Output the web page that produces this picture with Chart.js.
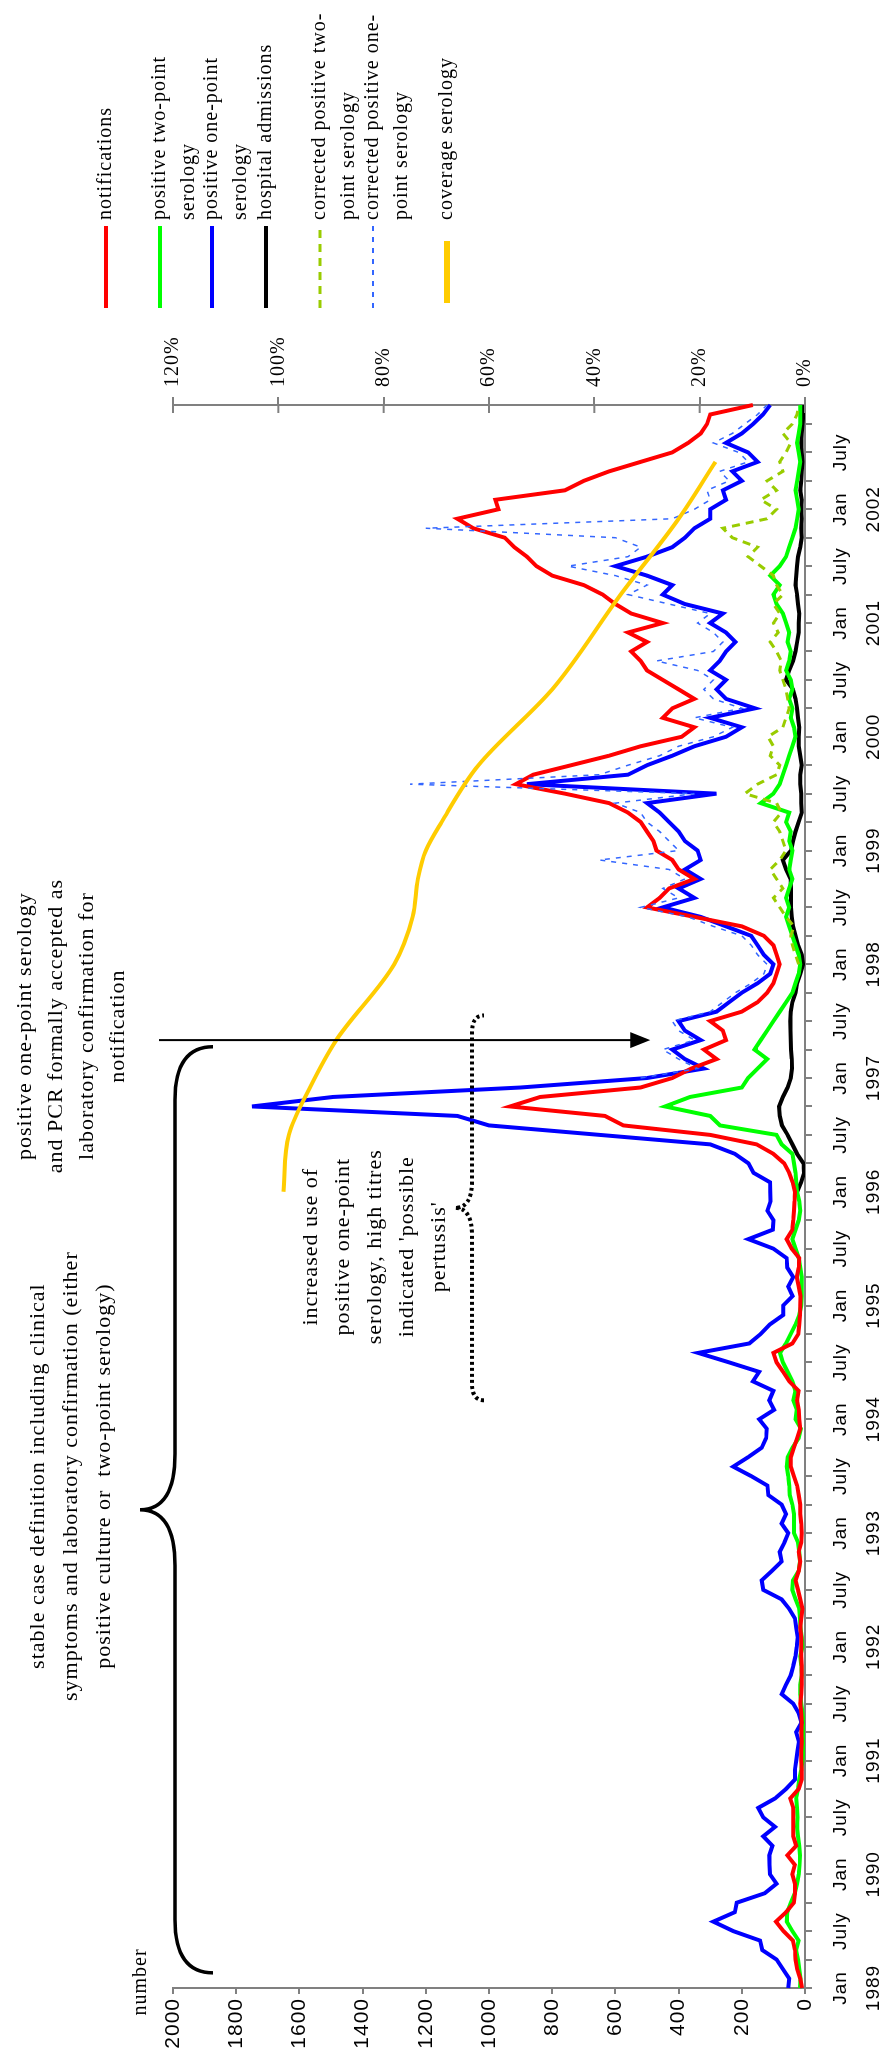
<!DOCTYPE html>
<html>
<head>
<meta charset="utf-8">
<title>Pertussis surveillance 1989-2002</title>
<script src="https://cdn.jsdelivr.net/npm/chart.js@4.4.1/dist/chart.umd.min.js"></script>
<style>
  html, body { margin: 0; padding: 0; background: #fff; width: 888px; height: 2060px; overflow: hidden; }
  /* the chart is laid out landscape and turned a quarter turn anticlockwise */
  #frame { position: absolute; left: 0; top: 0; width: 2060px; height: 888px;
           transform-origin: 0 0; transform: translateY(2060px) rotate(-90deg); }
  canvas { display: block; }
</style>
</head>
<body>
<div id="frame"><canvas id="c" width="2060" height="888"></canvas></div>
<script>
// ---- time axis: monthly, Jan 1989 .. Dec 2002 ----
const firstYear = 1989;
const lastYear = 2002;
const monthNames = ['Jan','Feb','Mar','Apr','May','Jun','Jul','Aug','Sep','Oct','Nov','Dec'];
const months = [];
for (let y = firstYear; y <= lastYear; y++) for (let m = 0; m < 12; m++) months.push(monthNames[m] + ' ' + y);

// ---- series (cases per month), one row per year ----
const notifications = [
  9,15,25,30,32,38,68,92,60,35,32,32,
  40,32,56,28,37,37,37,37,47,20,10,10,
  12,12,10,12,10,12,15,12,10,10,10,12,
  12,12,15,12,8,15,22,30,20,15,20,12,
  10,12,15,15,20,25,35,45,45,35,25,15,
  18,20,25,20,50,69,90,100,40,21,18,16,
  15,14,20,26,20,18,42,58,40,37,35,33,
  32,39,50,66,100,153,300,575,633,933,838,520,
  420,360,280,320,250,260,300,200,150,120,100,90,
  80,90,100,130,200,350,500,460,430,350,400,420,
  470,480,500,520,560,620,760,915,860,740,620,520,
  390,350,450,420,350,400,450,500,520,550,500,560,
  450,550,600,640,700,800,850,880,920,950,1050,1100,
  970,980,760,700,620,520,420,370,330,310,300,165
];
const twoPoint = [
  16,14,18,22,28,20,40,58,56,45,32,25,
  20,17,16,18,22,25,24,25,28,22,18,12,
  8,5,3,2,4,8,12,15,15,10,12,15,
  8,10,14,16,18,30,40,38,20,16,18,22,
  35,35,35,40,48,50,53,58,55,40,20,13,
  30,26,37,30,40,55,70,79,60,45,30,18,
  12,10,10,10,15,20,30,40,30,20,15,18,
  25,28,30,35,40,74,90,269,300,443,364,200,
  180,150,120,160,140,120,100,80,60,40,30,20,
  15,20,30,40,50,60,50,60,50,40,50,45,
  40,50,45,60,50,140,100,80,70,60,50,40,
  30,35,45,40,50,40,45,60,50,45,55,50,
  60,70,90,100,80,110,80,60,50,40,30,25,
  20,25,30,25,20,15,20,25,20,15,15,15
];
const onePoint = [
  53,50,70,90,135,142,227,290,222,216,127,90,
  111,112,113,103,132,95,132,148,95,60,32,32,
  28,24,19,28,11,20,37,74,60,45,37,30,
  26,23,28,32,50,74,132,137,105,74,80,65,
  53,74,60,74,116,119,170,227,180,137,123,121,
  145,98,113,100,165,145,240,338,176,140,111,69,
  69,39,53,37,56,58,100,179,102,100,119,109,
  110,111,163,179,222,300,650,1000,1100,1750,1494,900,
  500,320,380,420,330,380,400,280,240,200,150,110,
  100,130,150,170,250,330,450,350,400,330,380,330,
  340,380,400,430,460,500,280,880,560,500,420,350,
  250,200,300,158,250,280,250,300,270,250,220,250,
  300,260,380,450,420,500,600,500,420,380,350,300,
  300,250,260,200,230,150,180,250,200,164,133,110
];
const admissions = [
  ...Array(84).fill(null),
  25,12,3,5,25,40,55,73,80,82,70,55,
  45,41,42,44,45,46,47,45,40,30,25,15,
  6,10,22,30,38,42,44,44,44,46,60,70,
  44,38,30,20,10,12,12,15,15,10,15,20,
  20,18,22,25,30,38,60,50,38,30,25,20,
  20,18,22,25,30,28,25,22,15,10,12,10,
  12,10,15,12,10,8,10,12,10,8,5,5
];
const corrTwoPoint = [
  ...Array(108).fill(null),
  20,30,40,45,35,60,80,100,70,90,110,80,
  60,70,80,100,75,90,190,150,90,80,110,100,
  117,70,60,50,55,60,70,80,75,90,110,85,
  100,80,100,70,90,100,140,180,150,230,260,120,
  90,140,90,120,70,80,60,45,70,40,25,20
];
const corrOnePoint = [
  ...Array(96).fill(null),
  520,340,400,450,350,400,420,300,260,220,170,130,
  120,150,170,200,290,370,520,400,450,380,430,650,
  400,430,460,500,520,600,350,1250,650,560,460,400,
  290,230,350,200,290,320,290,340,470,290,260,290,
  340,300,430,560,500,600,750,560,520,600,1200,420,
  350,300,310,240,270,180,210,290,230,190,150,120
];
// serology coverage (% of tests), sparse points joined by a smooth curve
const coverage = [
  ...Array(84).fill(null),
  99,null,null,null,null,null,98,null,null,null,null,94,
  null,null,null,null,89,null,null,null,null,null,null,null,
  78,null,null,null,null,74.5,null,null,null,73.5,null,null,
  72,null,null,69,null,null,null,null,null,62,null,null,
  null,null,null,null,null,48,null,null,null,null,null,null,
  null,null,null,35,null,null,null,null,null,null,null,24,
  null,null,null,null,null,17,null,null,null,null,null,null
];

// ---- axis ticks ----
const numberTicks = { min: 0, max: 2000, step: 200 };
const percentTicks = { min: 0, max: 120, step: 20 };

// ---- legend and notes ----
const legendItems = [
  { lines: ['notifications'], color: '#FF0000', width: 4, dash: [] },
  { lines: ['positive two-point', 'serology'], color: '#00FF00', width: 4, dash: [] },
  { lines: ['positive one-point', 'serology'], color: '#0000FF', width: 4, dash: [] },
  { lines: ['hospital admissions'], color: '#000000', width: 4, dash: [] },
  { lines: ['corrected positive two-', 'point serology'], color: '#99CC00', width: 3, dash: [8, 6] },
  { lines: ['corrected positive one-', 'point serology'], color: '#3366FF', width: 2, dash: [5, 6] },
  { lines: ['coverage serology'], color: '#FFCC00', width: 6, dash: [] }
];
const noteCaseDef = ['stable case definition including clinical',
                     'symptoms and laboratory confirmation (either',
                     'positive culture or  two-point serology)'];
const noteAccepted = ['positive one-point serology',
                      'and PCR formally accepted as',
                      'laboratory confirmation for',
                      'notification'];
const noteIncrease = ['increased use of', 'positive one-point',
                      'serology, high titres', "indicated 'possible",
                      "pertussis'"];
const acceptedMonth = 100;   // May 1997

const SERIF = '"Liberation Serif", "Times New Roman", serif';
const SANS = '"Liberation Sans", Arial, sans-serif';

function drawBrace(ctx, x0, x1, yEnd, ySpine, yTip) {
  // horizontal curly brace, ends bending away from the tip
  const xm = (x0 + x1) / 2;
  const r = Math.abs(yEnd - ySpine);
  const t = Math.abs(ySpine - yTip);
  ctx.beginPath();
  ctx.moveTo(x0, yEnd);
  ctx.quadraticCurveTo(x0, ySpine, x0 + r * 1.4, ySpine);
  ctx.lineTo(xm - t * 1.6, ySpine);
  ctx.quadraticCurveTo(xm, ySpine, xm, yTip);
  ctx.quadraticCurveTo(xm, ySpine, xm + t * 1.6, ySpine);
  ctx.lineTo(x1 - r * 1.4, ySpine);
  ctx.quadraticCurveTo(x1, ySpine, x1, yEnd);
  ctx.stroke();
}

function centredLines(ctx, lines, cx, y0, step) {
  ctx.textAlign = 'center';
  ctx.textBaseline = 'middle';
  lines.forEach((s, i) => ctx.fillText(s, cx, y0 + i * step));
}

const decorations = {
  id: 'decorations',
  beforeDraw(chart) {
    chart.ctx.letterSpacing = '1px';
  },
  afterDraw(chart) {
    const ctx = chart.ctx;
    const xs = chart.scales.x, ys = chart.scales.y, yp = chart.scales.y2;
    const area = chart.chartArea;
    ctx.save();
    ctx.fillStyle = '#000';
    ctx.letterSpacing = '1px';

    // inner half of the cross ticks on the percentage axis
    ctx.strokeStyle = '#808080';
    ctx.lineWidth = 2;
    for (let v = percentTicks.min; v <= percentTicks.max; v += percentTicks.step) {
      const py = yp.getPixelForValue(v);
      ctx.beginPath(); ctx.moveTo(area.right - 8, py); ctx.lineTo(area.right, py); ctx.stroke();
    }

    // axis title
    ctx.font = '20px ' + SERIF;
    ctx.textAlign = 'center';
    ctx.textBaseline = 'alphabetic';
    ctx.fillText('number', area.left + 6, area.top - 27);

    // change of case definition: arrow
    const ax = xs.getPixelForValue(acceptedMonth);
    const tipY = ys.getPixelForValue(490);
    ctx.strokeStyle = '#000';
    ctx.lineWidth = 2;
    ctx.beginPath(); ctx.moveTo(ax, area.top - 14); ctx.lineTo(ax, tipY - 18); ctx.stroke();
    ctx.beginPath(); ctx.moveTo(ax, tipY); ctx.lineTo(ax - 8, tipY - 20); ctx.lineTo(ax + 8, tipY - 20); ctx.closePath(); ctx.fill();
    ctx.font = '22px ' + SERIF;
    centredLines(ctx, noteAccepted, ax + 14, 25, 31);

    // stable period brace
    ctx.lineWidth = 3.5;
    drawBrace(ctx, xs.getPixelForValue(1.6), xs.getPixelForValue(99.3), 213, 175, 140);
    centredLines(ctx, noteCaseDef, xs.getPixelForValue(54), 38, 33);

    // 'possible pertussis' period: dotted brace
    ctx.save();
    ctx.lineWidth = 4;
    ctx.setLineDash([3, 3]);
    drawBrace(ctx, xs.getPixelForValue(62), xs.getPixelForValue(102.6), 484, 472, 455);
    ctx.restore();
    centredLines(ctx, noteIncrease, xs.getPixelForValue(78.2), 311, 32);

    // legend
    ctx.font = '20px ' + SERIF;
    const rows = [106, 160, 212, 266, 320, 373, 447];
    legendItems.forEach((it, i) => {
      const y = rows[i];
      ctx.save();
      ctx.strokeStyle = it.color;
      ctx.lineWidth = it.width;
      ctx.setLineDash(it.dash);
      ctx.beginPath();
      if (it.width > 5) { ctx.moveTo(1757, y); ctx.lineTo(1819, y); }
      else { ctx.moveTo(1752, y); ctx.lineTo(1834, y); }
      ctx.stroke();
      ctx.restore();
      ctx.textAlign = 'left';
      ctx.textBaseline = 'middle';
      it.lines.forEach((s, k) => ctx.fillText(s, 1840, y + k * 29));
    });
    ctx.restore();
  }
};

const line = (label, data, color, width, extra) => Object.assign({
  label, data, borderColor: color, backgroundColor: color, borderWidth: width,
  pointRadius: 0, tension: 0, fill: false, spanGaps: false, yAxisID: 'y'
}, extra || {});

new Chart(document.getElementById('c'), {
  type: 'line',
  data: {
    labels: months,
    datasets: [
      line('coverage serology', coverage, '#FFCC00', 4, { yAxisID: 'y2', spanGaps: true, cubicInterpolationMode: 'monotone', order: 0 }),
      line('corrected positive one-point serology', corrOnePoint, '#3366FF', 1.5, { borderDash: [5, 6], order: 1 }),
      line('corrected positive two-point serology', corrTwoPoint, '#99CC00', 3, { borderDash: [8, 6], order: 2 }),
      line('notifications', notifications, '#FF0000', 4, { order: 3 }),
      line('positive one-point serology', onePoint, '#0000FF', 4, { order: 4 }),
      line('positive two-point serology', twoPoint, '#00FF00', 4, { order: 5 }),
      line('hospital admissions', admissions, '#000000', 4, { order: 6 })
    ]
  },
  options: {
    responsive: false,
    animation: false,
    devicePixelRatio: 1,
    layout: { padding: { top: 173, left: 0, right: 0, bottom: 0 } },
    plugins: { legend: { display: false }, tooltip: { enabled: false } },
    scales: {
      x: {
        type: 'category',
        offset: false,
        border: { color: '#808080', width: 2 },
        grid: {
          drawOnChartArea: false, tickLength: 7, lineWidth: 2,
          color: c => (c.index % 3 === 0 ? '#808080' : 'rgba(0,0,0,0)')
        },
        ticks: {
          autoSkip: false, maxRotation: 0, minRotation: 0, padding: 12, color: '#000',
          font: { family: SANS, size: 19, lineHeight: 1.75 },
          callback: (v, i) => (i % 12 === 0 ? ['Jan', String(firstYear + i / 12)] : (i % 12 === 6 ? 'July' : ''))
        },
        afterFit: s => { s.height = 83; }
      },
      y: {
        min: numberTicks.min, max: numberTicks.max,
        border: { color: '#808080', width: 2 },
        grid: { drawOnChartArea: false, tickLength: 6, color: '#808080', lineWidth: 2 },
        ticks: { stepSize: numberTicks.step, padding: 4, color: '#000', font: { family: SANS, size: 21 },
                 callback: v => String(v) },
        afterFit: s => { s.width = 72; }
      },
      y2: {
        position: 'right',
        min: percentTicks.min, max: percentTicks.max,
        border: { color: '#808080', width: 2 },
        grid: { drawOnChartArea: false, tickLength: 8, color: '#808080', lineWidth: 2 },
        ticks: { stepSize: percentTicks.step, padding: 10, color: '#000', font: { family: SERIF, size: 20 },
                 callback: v => v + '%' },
        afterFit: s => { s.width = 405; }
      }
    }
  },
  plugins: [decorations]
});
</script>
</body>
</html>
